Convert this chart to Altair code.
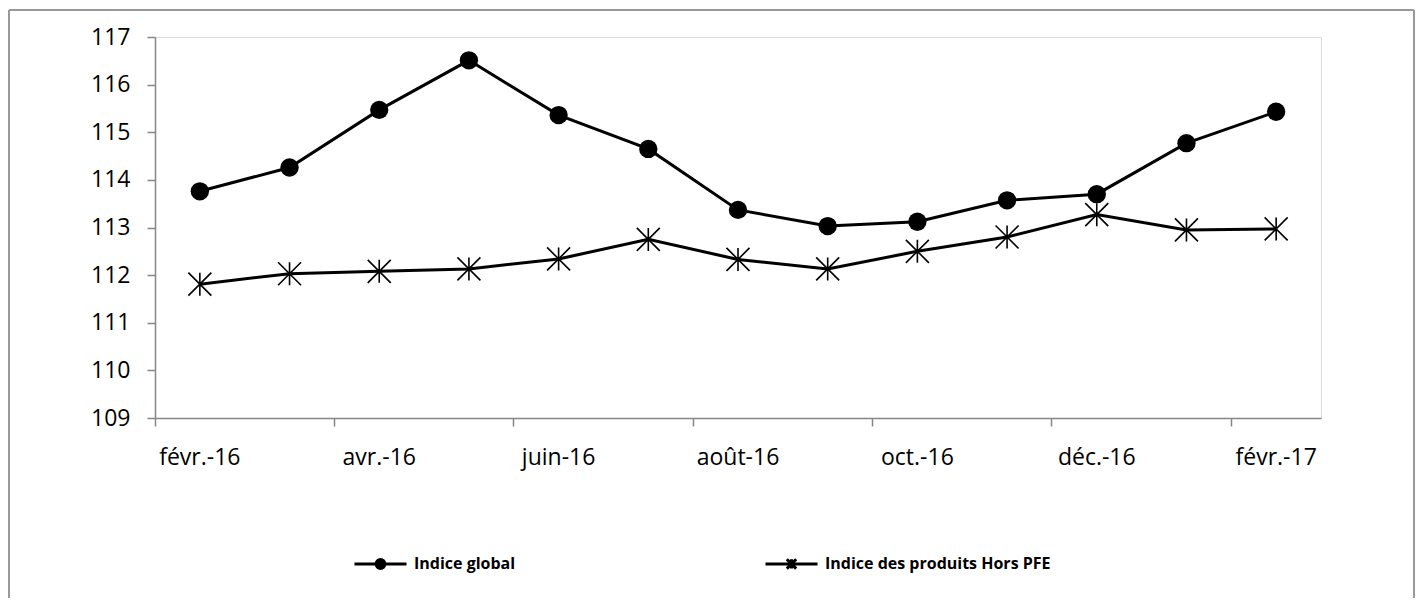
import altair as alt
import pandas as pd

months = ["févr.-16", "mars-16", "avr.-16", "mai-16", "juin-16", "juil.-16", "août-16",
          "sept.-16", "oct.-16", "nov.-16", "déc.-16", "janv.-17", "févr.-17"]
series_names = ["Indice global", "Indice des produits Hors PFE"]
indice_global = [113.76, 114.26, 115.47, 116.51, 115.36, 114.65, 113.37, 113.03, 113.12, 113.57, 113.70, 114.77, 115.43]
indice_hors_pfe = [111.81, 112.03, 112.08, 112.13, 112.34, 112.75, 112.33, 112.13, 112.50, 112.80, 113.27, 112.95, 112.97]
y_ticks = [109, 110, 111, 112, 113, 114, 115, 116, 117]
x_label_months = months[::2]

rows = []
for m, v in zip(months, indice_global):
    rows.append({"mois": m, "serie": series_names[0], "valeur": v})
for m, v in zip(months, indice_hors_pfe):
    rows.append({"mois": m, "serie": series_names[1], "valeur": v})
df = pd.DataFrame(rows)

W, H = 1166, 381
FONT = "Open Sans"
GRAY = "#868686"

x_enc = alt.X("mois:N", sort=months,
              scale=alt.Scale(type="band", paddingInner=0, paddingOuter=0),
              axis=alt.Axis(values=x_label_months, bandPosition=0,
                            labelAngle=0, title=None, grid=False, tickSize=8,
                            tickColor=GRAY, domainColor=GRAY, domainWidth=1.5, tickWidth=1.5,
                            labelFont=FONT, labelFontSize=23, labelColor="black",
                            labelPadding=20, labelAlign="center"))
y_enc = alt.Y("valeur:Q", scale=alt.Scale(domain=[109, 117], zero=False, nice=False),
              axis=alt.Axis(values=y_ticks, title=None, grid=False, tickSize=8,
                            tickColor=GRAY, domainColor=GRAY, domainWidth=1.5, tickWidth=1.5,
                            labelFont=FONT, labelFontSize=23, labelColor="black",
                            labelPadding=17))

base = alt.Chart(df)

lines = base.mark_line(color="black", strokeWidth=3).encode(
    x=x_enc, y=y_enc, detail="serie:N")

circles = base.transform_filter(alt.datum.serie == series_names[0]).mark_circle(
    color="black", size=336, opacity=1).encode(x=x_enc, y=y_enc)

star_path = "M0,-1V1M-1,-1L1,1M-1,1L1,-1"
stars = base.transform_filter(alt.datum.serie == series_names[1]).mark_point(
    shape=star_path, size=529, stroke="black", strokeWidth=1.6, filled=False, opacity=1).encode(
    x=x_enc, y=y_enc)

# legend symbols drawn only with strokes: line + concentric circles (filled dot) / line + asterisk
def ring(r):
    return f"M{-r},0A{r},{r} 0 1,1 {r},0A{r},{r} 0 1,1 {-r},0"

leg_circle = "M-1,0H1" + ring(0.17) + ring(0.11) + ring(0.05)
leg_star = "M-1,0H1M0,-0.18V0.18M-0.18,-0.18L0.18,0.18M-0.18,0.18L0.18,-0.18"

legend_layer = base.mark_point(stroke="black", strokeWidth=3,
                               filled=False, opacity=0).encode(
    x=x_enc, y=y_enc,
    shape=alt.Shape("serie:N", sort=series_names,
                    scale=alt.Scale(domain=series_names, range=[leg_circle, leg_star]),
                    legend=alt.Legend(title=None, orient="none", legendX=198, legendY=499,
                                      direction="horizontal", columns=2, columnPadding=243,
                                      symbolSize=2704, symbolStrokeWidth=3,
                                      symbolStrokeColor="black", symbolOpacity=1,
                                      labelFont=FONT, labelFontSize=16, labelFontWeight="bold",
                                      labelColor="black", labelOffset=6, labelLimit=0)))

frame_top = alt.Chart(pd.DataFrame({"a": [0]})).mark_rule(color="#999999", strokeWidth=2).encode(
    x=alt.value(-146), x2=alt.value(W + 93), y=alt.value(-27))
frame_left = alt.Chart(pd.DataFrame({"a": [0]})).mark_rule(color="#999999", strokeWidth=2).encode(
    x=alt.value(-146), y=alt.value(-27), y2=alt.value(H + 185))
frame_right = alt.Chart(pd.DataFrame({"a": [0]})).mark_rule(color="#999999", strokeWidth=2).encode(
    x=alt.value(W + 93), y=alt.value(-27), y2=alt.value(H + 185))

chart = alt.layer(lines, circles, stars, legend_layer, frame_top, frame_left, frame_right).properties(
    width=W, height=H,
    autosize=alt.AutoSizeParams(type="none"),
    padding={"left": 147, "top": 29, "right": 94, "bottom": 180},
).configure_view(stroke=None).configure(background="white")

chart.save("out.html", embed_options={"renderer": "svg", "actions": False})
